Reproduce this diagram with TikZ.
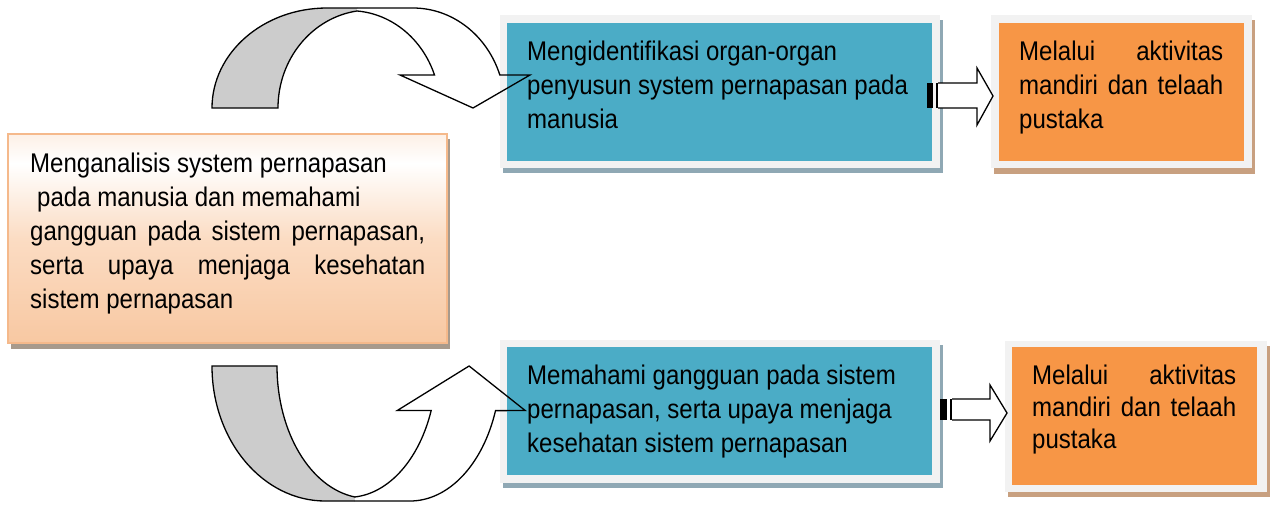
\documentclass[tikz,border=0pt]{standalone}
\usepackage{fontspec}
\setmainfont{Liberation Sans}[FakeStretch=0.89]
\definecolor{frm}{HTML}{F2F2F2}
\definecolor{blu}{HTML}{4BACC6}
\definecolor{org}{HTML}{F79646}
\definecolor{bshad}{HTML}{8FA8B4}
\definecolor{oshad}{HTML}{C8A080}
\definecolor{pbord}{HTML}{F5B98B}
\definecolor{lshad}{HTML}{A89A8C}
\definecolor{bandgray}{HTML}{CCCCCC}
\definecolor{pbot}{HTML}{F8C8A2}
\definecolor{pmid}{HTML}{FBDCC3}
\definecolor{ptop}{HTML}{FDF0E6}
\pgfdeclareverticalshading{peachgrad}{100bp}{color(0bp)=(pbot); color(25bp)=(pbot); color(50bp)=(pmid); color(68bp)=(white); color(75bp)=(ptop); color(100bp)=(ptop)}
\tikzset{
  txt/.style={anchor=base west, inner sep=0pt, font=\fontsize{27}{34}\selectfont},
  framebox/.style={anchor=north west, fill=frm, draw=none, inner sep=0pt},
  bluebox/.style={anchor=north west, fill=blu, draw=none, inner sep=0pt},
  orangebox/.style={anchor=north west, fill=org, draw=none, inner sep=0pt},
  outl/.style={draw=black, line width=1.3pt, line join=miter},
  curvfill/.pic={
    \fill[bandgray] (0,0) arc[start angle=180,end angle=90,x radius=115,y radius=100] -- (145,100) -- (145.2,97) arc[start angle=98,end angle=180,x radius=92,y radius=98] -- cycle;
    \fill[white] (145,100) -- (201,100) arc[start angle=90,end angle=19.3,x radius=92,y radius=100] -- (318,33) -- (261,0) -- (188,33) -- (222.5,33) arc[start angle=20.1,end angle=85.5,x radius=90,y radius=98] -- cycle;
  },
  curvline/.pic={
    \draw[outl] (145,100) -- (115,100) arc[start angle=90,end angle=180,x radius=115,y radius=100] -- (66,0) arc[start angle=180,end angle=98,x radius=92,y radius=98];
    \draw[outl] (145,100) -- (201,100) arc[start angle=90,end angle=19.3,x radius=92,y radius=100] -- (318,33) -- (261,0) -- (188,33) -- (222.5,33) arc[start angle=20.1,end angle=85.5,x radius=90,y radius=98];
  }
}
\begin{document}
\begin{tikzpicture}[x=1pt,y=-1pt]
\useasboundingbox (0,0) rectangle (1271,504);
\fill[white] (0,0) rectangle (1271,504);

% curved arrows (fills)
\pic[yscale=-1] at (212,108) {curvfill};
\pic[xscale=0.985,yscale=1.35] at (212,366) {curvfill};

% left box
\fill[lshad] (11,139) rectangle (450,349);
\shade[shading=peachgrad] (8,134) rectangle (447,343);
\draw[pbord, line width=2pt] (8,134) rectangle (447,343);
\coordinate (leftbox) at (8,134);

% top row
\fill[bshad] (503,20) rectangle (943,173);
\node[framebox, minimum width=440pt, minimum height=153pt] (f1) at (500,15) {};
\node[bluebox, minimum width=425pt, minimum height=138pt] (b1) at (507,23) {};
\fill[oshad] (994,20) rectangle (1255,174);
\node[framebox, minimum width=261pt, minimum height=153pt] (f2) at (991,15) {};
\node[orangebox, minimum width=245pt, minimum height=138pt] (o1) at (999,23) {};

% bottom row
\fill[bshad] (503,345) rectangle (943,488);
\node[framebox, minimum width=440pt, minimum height=143pt] (f3) at (500,340) {};
\node[bluebox, minimum width=425pt, minimum height=128pt] (b2) at (507,347) {};
\fill[oshad] (1008,346) rectangle (1270,497);
\node[framebox, minimum width=262pt, minimum height=151pt] (f4) at (1005,341) {};
\node[orangebox, minimum width=245pt, minimum height=138pt] (o2) at (1012,347) {};

% curved arrow outlines on top
\pic[yscale=-1] at (212,108) {curvline};
\pic[xscale=0.985,yscale=1.35] at (212,366) {curvline};

% striped block arrows
\fill[black] (927,83) rectangle (933,108);
\fill[black] (935.5,83) rectangle (938,108);
\draw[outl, fill=white] (938,83) -- (977,83) -- (977,68) -- (993,96) -- (977,125) -- (977,108) -- (938,108);
\fill[black] (940,399) rectangle (947,420);
\fill[black] (949.5,399) rectangle (952,420);
\draw[outl, fill=white] (952,399) -- (990,399) -- (990,385) -- (1007,413) -- (990,441) -- (990,420) -- (952,420);

% texts
\node[txt] (l1) at (30,172.5) {Menganalisis system pernapasan};
\node[txt] (l2) at (37,206.5) {pada manusia dan memahami};
\node[txt] (l3) at (30,240.5) {\makebox[395pt][s]{gangguan pada sistem pernapasan,}};
\node[txt] (l4) at (30,274.5) {\makebox[395pt][s]{serta upaya menjaga kesehatan}};
\node[txt] (l5) at (30,308.5) {sistem pernapasan};

\node[txt] (t1) at (527,60) {Mengidentifikasi organ-organ};
\node[txt] (t2) at (527,94) {penyusun system pernapasan pada};
\node[txt] (t3) at (527,128) {manusia};

\node[txt] (u1) at (1019,60) {\makebox[204pt][s]{Melalui aktivitas}};
\node[txt] (u2) at (1019,94) {\makebox[204pt][s]{mandiri dan telaah}};
\node[txt] (u3) at (1019,128) {pustaka};

\node[txt] (m1) at (527,384) {Memahami gangguan pada sistem};
\node[txt] (m2) at (527,418) {pernapasan, serta upaya menjaga};
\node[txt] (m3) at (527,452) {kesehatan sistem pernapasan};

\node[txt] (v1) at (1032,384) {\makebox[204pt][s]{Melalui aktivitas}};
\node[txt] (v2) at (1032,416) {\makebox[204pt][s]{mandiri dan telaah}};
\node[txt] (v3) at (1032,448) {pustaka};
\end{tikzpicture}
\end{document}
